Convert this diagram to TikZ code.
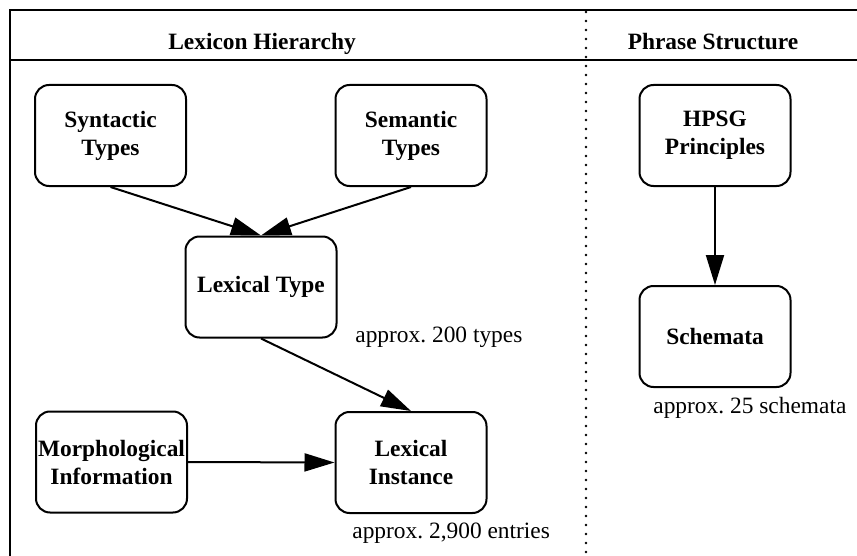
\documentclass[tikz,border=0pt]{standalone}
\usepackage{fontspec}
\setmainfont{Liberation Serif}
\usetikzlibrary{arrows.meta}
\frenchspacing
\begin{document}
\begin{tikzpicture}[x=0.5pt,y=-0.5pt,
  box/.style={draw,line width=1pt,rounded corners=7pt,minimum width=75.5pt,minimum height=50.5pt,
    inner sep=0pt,align=center,font=\fontsize{11.7}{14}\selectfont\bfseries},
  head/.style={font=\fontsize{11.7}{14}\selectfont\bfseries,anchor=base},
  note/.style={font=\fontsize{11.7}{14}\selectfont,anchor=base west,inner sep=0pt},
  conn/.style={line width=1pt,-{Triangle[length=15pt,width=9pt]}},
  frame/.style={line width=1pt}]
\useasboundingbox (0,0) rectangle (857,556);
% frame
\draw[frame] (857,10) -- (10,10) -- (10,556);
\draw[frame] (10,60) -- (857,60);
\draw[line width=1.3pt,line cap=round,dash pattern=on 0pt off 4.5pt] (586,12) -- (586,556);
% headers
\node[head] (hlex) at (262,50) {Lexicon Hierarchy};
\node[head] (hphr) at (713,50) {Phrase Structure};
% boxes
\node[box] (syn) at (110.5,135.5) {Syntactic\\Types};
\node[box] (sem) at (411,135.5) {Semantic\\Types};
\node[box] (lt) at (261,287) {Lexical Type};
\node[box] (mi) at (111.5,462) {Morphological\\Information};
\node[box] (li) at (411,462.5) {Lexical\\Instance};
\node[box] (hpsg) at (715,135.5) {HPSG\\Principles};
\node[box] (sch) at (715,336.5) {Schemata};
% notes
\node[note] (n1) at (355,342) {approx. 200 types};
\node[note] (n2) at (352,538) {approx. 2,900 entries};
\node[note] (n3) at (653,413) {approx. 25 schemata};
% connectors
\draw[conn] (syn.south) -- (lt.north);
\draw[conn] (sem.south) -- (lt.north);
\draw[conn] (lt.south) -- (li.north);
\draw[conn] (mi.east) -- (li.west);
\draw[conn] (hpsg.south) -- (sch.north);
\end{tikzpicture}
\end{document}
